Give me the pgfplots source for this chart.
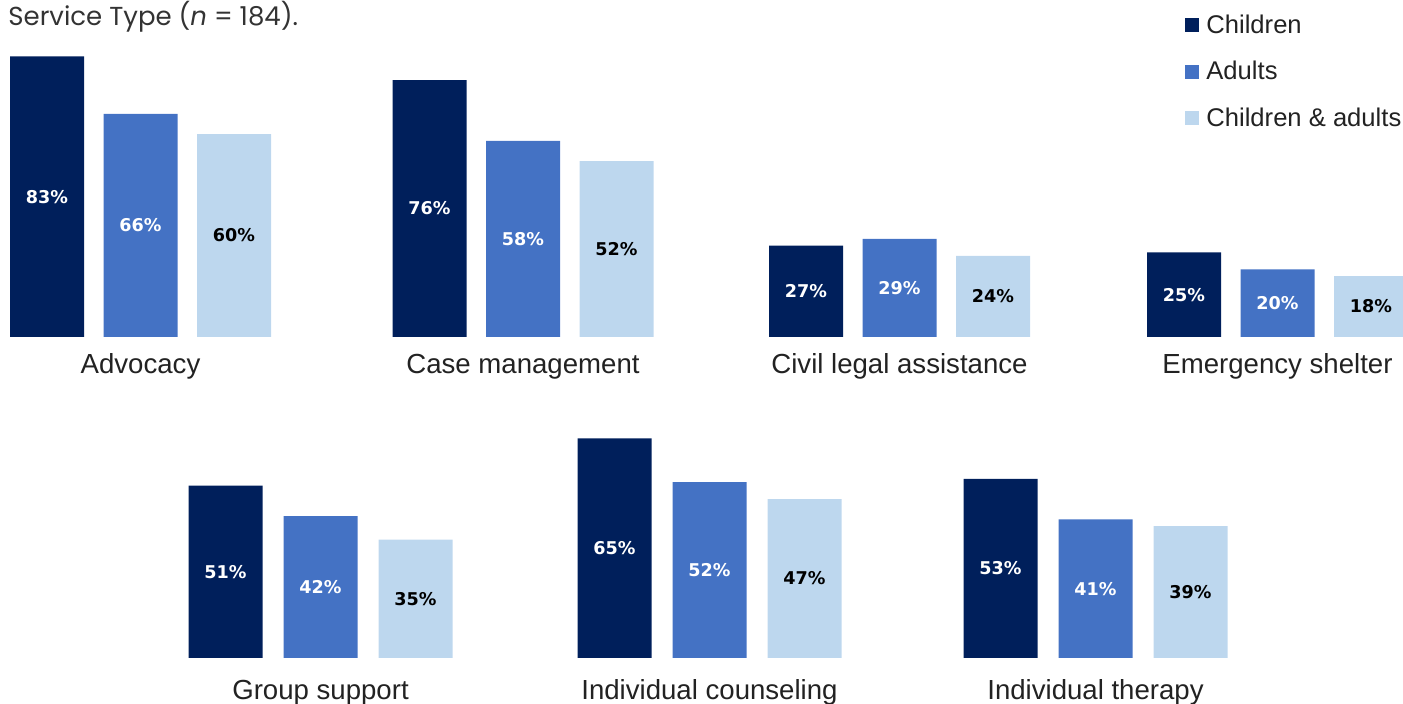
\documentclass[border=0pt]{standalone}
\usepackage{fontspec}
\usepackage{pgfplots}
\pgfplotsset{compat=1.18}
\setmainfont{Liberation Sans}
\newfontfamily\valfont{DejaVu Sans}
\newfontfamily\titlefont{Poppins}

\definecolor{cChild}{HTML}{001F5B}
\definecolor{cAdult}{HTML}{4472C4}
\definecolor{cBoth}{HTML}{BDD7EE}
\definecolor{lbl}{HTML}{222222}

\pgfplotsset{
  panel/.style={
    x=0.5pt, y=1.69pt, xmin=0, xmax=1403, ymin=0,
    anchor=south west, ybar, bar width=74,
    axis line style={draw=none}, ytick=\empty, major tick length=0pt,
    xticklabel style={font=\fontsize{13.8}{16}\selectfont, text=lbl, anchor=base},
    /pgf/number format/assume math mode=true,
    nodes near coords={\pgfmathprintnumber{\pgfplotspointmeta}\%},
    visualization depends on={rawy \as \rawy},
    every node near coord/.append style={font=\valfont\bfseries\fontsize{8.8}{10}\selectfont,
      anchor=center, yshift={-\rawy*0.845pt}},
  },
  white vals/.style={every node near coord/.append style={text=white}},
  black vals/.style={every node near coord/.append style={text=black}},
}

\begin{document}
\begin{tikzpicture}
\useasboundingbox (0pt,0pt) rectangle (701.5pt,352pt);

\node[anchor=base west, inner sep=0pt, font=\titlefont\fontsize{13}{16}\selectfont, text=black!80]
  at (4pt,339pt) {Service Type (\textit{n} = 184).};

% top row
\begin{axis}[panel, at={(0pt,183.5pt)}, ymax=100,
  xtick={140.5,523,899.5,1277.5},
  xticklabels={Advocacy,Case management,Civil legal assistance,Emergency shelter},
  xticklabel style={yshift=-18.5pt},
  legend style={at={(axis cs:1185,95.5)}, anchor=north west, draw=none, fill=none,
    inner sep=0pt, row sep=12.5pt, column sep=3.5pt,
    font=\fontsize{12.8}{15}\selectfont, text=lbl,
    nodes={inner sep=0pt}},
  legend cell align=left,
  legend image code/.code={\fill[#1] (0pt,-3.5pt) rectangle (7pt,3.5pt);},
]
\addplot[fill=cChild, draw=none, bar shift=-93.5, white vals] coordinates {
  (140.5,83) (523,76) (899.5,27) (1277.5,25)};
\addplot[fill=cAdult, draw=none, bar shift=0, white vals] coordinates {
  (140.5,66) (523,58) (899.5,29) (1277.5,20)};
\addplot[fill=cBoth, draw=none, bar shift=93.5, black vals] coordinates {
  (140.5,60) (523,52) (899.5,24) (1277.5,18)};
\legend{Children,Adults,Children \& adults}
\end{axis}

% bottom row
\begin{axis}[panel, at={(0pt,23pt)}, ymax=90,
  xtick={320.5,709.5,1095.5},
  xticklabels={Group support,Individual counseling,Individual therapy},
  xticklabel style={yshift=-21pt},
]
\addplot[fill=cChild, draw=none, bar shift=-95, white vals] coordinates {
  (320.5,51) (709.5,65) (1095.5,53)};
\addplot[fill=cAdult, draw=none, bar shift=0, white vals] coordinates {
  (320.5,42) (709.5,52) (1095.5,41)};
\addplot[fill=cBoth, draw=none, bar shift=95, black vals] coordinates {
  (320.5,35) (709.5,47) (1095.5,39)};
\end{axis}
\end{tikzpicture}
\end{document}
